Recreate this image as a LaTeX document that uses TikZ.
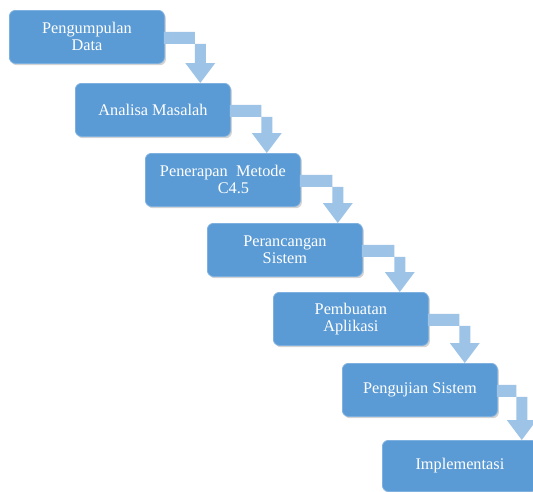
\documentclass[tikz,border=0pt]{standalone}
\usepackage{fontspec}
\setmainfont{Liberation Serif}
\usetikzlibrary{calc,shadows,backgrounds}
\definecolor{boxblue}{HTML}{5B9BD5}
\definecolor{boxedge}{HTML}{7EB1E0}
\definecolor{arrowblue}{HTML}{9DC3E6}
\tikzset{
  stepbox/.style={anchor=north west, rectangle, rounded corners=6pt,
    minimum width=155pt, minimum height=53pt, inner sep=0pt,
    fill=boxblue, draw=boxedge, line width=0.8pt, text=white, align=center,
    font=\fontsize{16.3}{17}\selectfont,
    drop shadow={shadow xshift=1.5pt, shadow yshift=-1.8pt, opacity=0.35, fill=gray}},
  arrowfill/.style={fill=arrowblue, draw=none}
}
\newcommand\flowarrow[3]{%
  \path[arrowfill] let \p1=(#1.east), \p2=(#2.north) in
    (\x1-1pt,\y1-7pt) -- (\x1+#3+5.5pt,\y1-7pt) -- (\x1+#3+5.5pt,\y2+20pt)
    -- (\x1+#3+15pt,\y2+20pt) -- (\x1+#3,\y2) -- (\x1+#3-15pt,\y2+20pt)
    -- (\x1+#3-5.5pt,\y2+20pt) -- (\x1+#3-5.5pt,\y1+5pt) -- (\x1-1pt,\y1+5pt) -- cycle;}
\begin{document}
\begin{tikzpicture}[x=1pt,y=-1pt]
\useasboundingbox (0,0) rectangle (533,491);
\clip (0,0) rectangle (533,491);
\node[stepbox] (b1) at (9,10) {Pengumpulan\\Data};
\node[stepbox] (b2) at (75,83) {Analisa Masalah};
\node[stepbox] (b3) at (145,153) {Penerapan\ \ Metode\\\hspace*{21pt}C4.5};
\node[stepbox] (b4) at (207,223) {Perancangan\\Sistem};
\node[stepbox] (b5) at (273,292) {Pembuatan\\Aplikasi};
\node[stepbox] (b6) at (342,363) {Pengujian Sistem};
\node[stepbox, minimum height=51pt] (b7) at (382,440) {Implementasi};
\flowarrow{b1}{b2}{35.5pt}
\flowarrow{b2}{b3}{36pt}
\flowarrow{b3}{b4}{37pt}
\flowarrow{b4}{b5}{37pt}
\flowarrow{b5}{b6}{36pt}
\flowarrow{b6}{b7}{24pt}
\end{tikzpicture}
\end{document}
